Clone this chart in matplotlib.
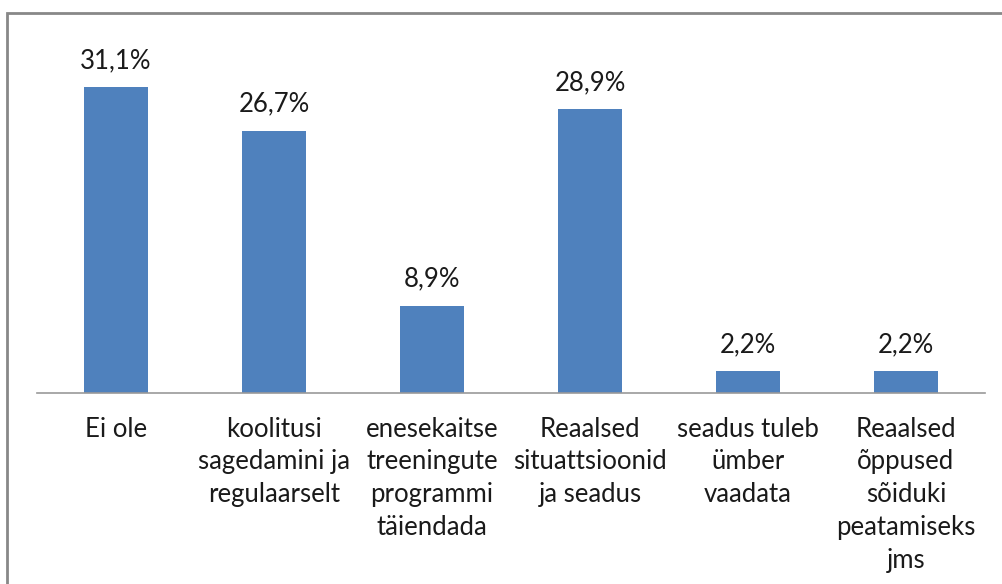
import matplotlib
matplotlib.use("Agg")
import matplotlib.pyplot as plt
from matplotlib.patches import Rectangle

categories = [
    "Ei ole",
    "koolitusi\nsagedamini ja\nregulaarselt",
    "enesekaitse\ntreeningute\nprogrammi\ntäiendada",
    "Reaalsed\nsituattsioonid\nja seadus",
    "seadus tuleb\nümber\nvaadata",
    "Reaalsed\nõppused\nsõiduki\npeatamiseks\njms",
]
values = [31.1, 26.7, 8.9, 28.9, 2.2, 2.2]
value_labels = ["31,1%", "26,7%", "8,9%", "28,9%", "2,2%", "2,2%"]

plt.rcParams["font.family"] = ["Lato", "DejaVu Sans"]
text_color = "#1a1a1a"

W, H = 1003, 584
fig = plt.figure(figsize=(W / 100, H / 100), dpi=100)

# kader ümber diagrammi (paremal ja all lõigatud)
fig.patches.append(Rectangle((7 / W, -0.1), 1.2, (H - 13) / H + 0.1,
                             transform=fig.transFigure, fill=False,
                             edgecolor="#888888", linewidth=2.0))

left, right, base, top = 37, 985, 393, 49
ax = fig.add_axes([left / W, (H - base) / H, (right - left) / W, (base - top) / H])

x = range(len(values))
bars = ax.bar(x, values, width=0.4, color="#4F81BD")
ax.set_xlim(-0.5, len(values) - 0.5)
ax.set_ylim(0, 35)

for b, lab in zip(bars, value_labels):
    ax.annotate(lab, (b.get_x() + b.get_width() / 2, b.get_height()),
                xytext=(0, 14), textcoords="offset pixels",
                ha="center", va="bottom", fontsize=18.5, color=text_color)

ax.set_xticks(list(x))
ax.set_xticklabels(categories, fontsize=18.5, color=text_color, linespacing=1.39)
ax.tick_params(axis="x", length=0, pad=17)
ax.set_yticks([])
for s in ["top", "right", "left"]:
    ax.spines[s].set_visible(False)
ax.spines["bottom"].set_color("#999999")
ax.spines["bottom"].set_linewidth(1.2)

fig.savefig("out.png", dpi=100)
